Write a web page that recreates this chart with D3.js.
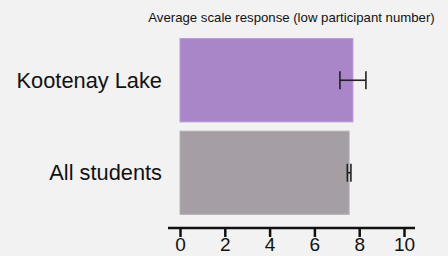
<!DOCTYPE html>
<html>
<head>
<meta charset="utf-8">
<script src="https://cdn.jsdelivr.net/npm/d3@7"></script>
<style>
  body { margin: 0; background: #f2f2f2; }
  svg { display: block; font-family: "Liberation Sans", Arial, sans-serif; }
</style>
</head>
<body>
<div id="chart"></div>
<script>
const categories = ['Kootenay Lake', 'All students']
const means = [7.72, 7.55]
const errors = [0.58, 0.08]
const barColors = ['#a886c8', '#a59fa5']
const tickValues = [0, 2, 4, 6, 8, 10]
const title = 'Average scale response (low participant number)'

const width = 448
const height = 256

const svg = d3.select('#chart')
  .append('svg')
  .attr('width', width)
  .attr('height', height)

svg.append('rect')
  .attr('width', width)
  .attr('height', height)
  .attr('fill', '#f2f2f2')

const x = d3.scaleLinear()
  .domain([0, 10])
  .range([180, 404])

const y = d3.scaleBand()
  .domain(categories)
  .range([34, 219])
  .paddingInner(0.1)
  .paddingOuter(0.05)

svg.append('text')
  .attr('x', 291.5)
  .attr('y', 22)
  .attr('text-anchor', 'middle')
  .attr('font-size', 13.2)
  .attr('fill', '#111')
  .text(title)

// bars
svg.selectAll('rect.bar')
  .data(categories)
  .enter()
  .append('rect')
  .classed('bar', true)
  .attr('x', x(0))
  .attr('y', d => y(d))
  .attr('width', (d, i) => x(means[i]) - x(0))
  .attr('height', y.bandwidth())
  .attr('fill', (d, i) => barColors[i])
  .attr('stroke', (d, i) => d3.color(barColors[i]).brighter(0.3))
  .attr('stroke-width', 1)

// category labels
svg.selectAll('text.cat')
  .data(categories)
  .enter()
  .append('text')
  .classed('cat', true)
  .attr('x', 162)
  .attr('y', d => y(d) + y.bandwidth() / 2)
  .attr('dy', '0.35em')
  .attr('text-anchor', 'end')
  .attr('font-size', 21.8)
  .attr('fill', '#111')
  .text(d => d)

// error bars
const errGroup = svg.selectAll('g.err')
  .data(categories)
  .enter()
  .append('g')
  .classed('err', true)
  .attr('stroke', '#222')
  .attr('stroke-width', 1.6)

errGroup.append('line')
  .attr('x1', (d, i) => x(means[i] - errors[i]))
  .attr('x2', (d, i) => x(means[i] + errors[i]))
  .attr('y1', d => y(d) + y.bandwidth() / 2)
  .attr('y2', d => y(d) + y.bandwidth() / 2)

errGroup.selectAll('line.cap')
  .data((d, i) => [means[i] - errors[i], means[i] + errors[i]].map(v => ({ v, c: d })))
  .enter()
  .append('line')
  .classed('cap', true)
  .attr('x1', d => x(d.v))
  .attr('x2', d => x(d.v))
  .attr('y1', d => y(d.c) + y.bandwidth() / 2 - 9)
  .attr('y2', d => y(d.c) + y.bandwidth() / 2 + 9)

// x axis
const axis = svg.append('g')
  .attr('transform', 'translate(0, 228)')
  .call(d3.axisBottom(x).tickValues(tickValues).tickSize(9).tickPadding(1).tickSizeOuter(0))

axis.select('.domain')
  .attr('d', 'M168,0H415')
  .attr('stroke', '#111')
  .attr('stroke-width', 2.5)

axis.selectAll('.tick line')
  .attr('stroke', '#111')
  .attr('stroke-width', 2.5)

axis.selectAll('.tick text')
  .attr('font-size', 19)
  .attr('font-family', '"Liberation Sans", Arial, sans-serif')
  .attr('fill', '#111')
</script>
</body>
</html>
